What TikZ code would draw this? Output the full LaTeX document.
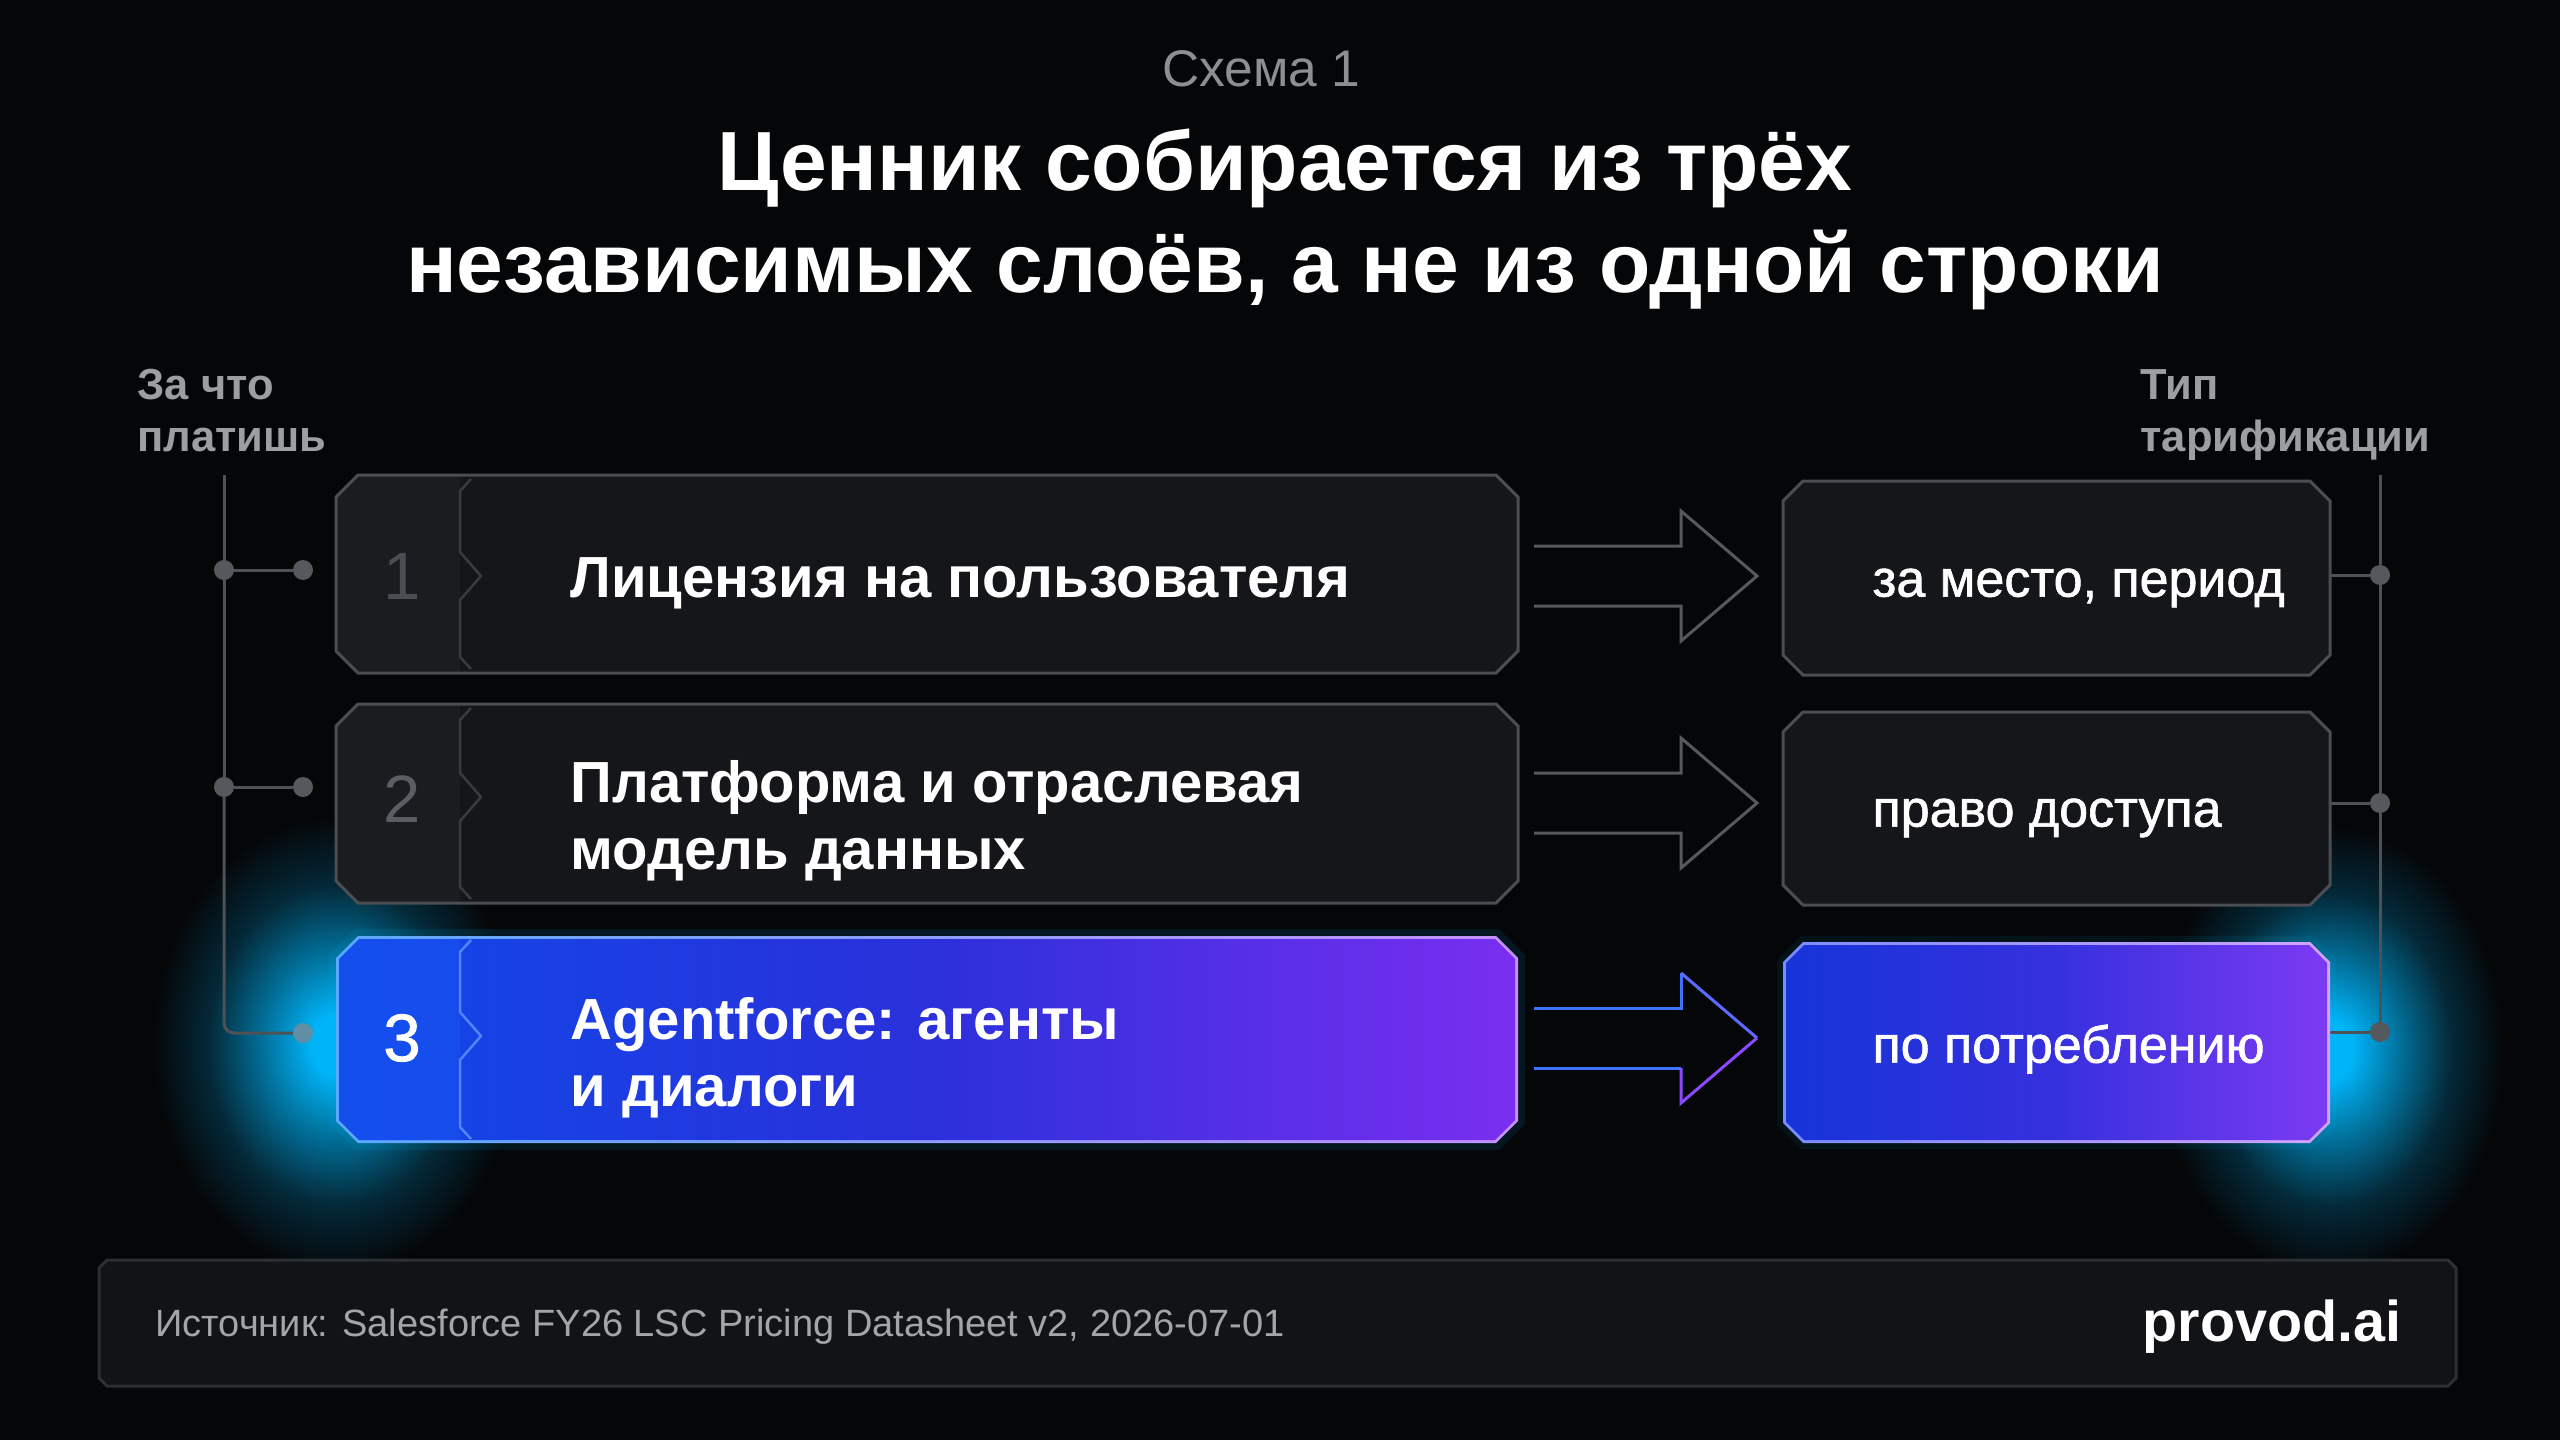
\documentclass[tikz,border=0pt]{standalone}
\usepackage{fontspec}
\setmainfont{Liberation Sans}
\newfontfamily\medfont{Liberation Sans}[FakeBold=1.2]
\usetikzlibrary{calc}
\definecolor{bg}{HTML}{050608}
\definecolor{boxfill}{HTML}{141619}
\definecolor{numfill}{HTML}{1A1C1F}
\definecolor{boxline}{HTML}{4A4D51}
\definecolor{divline}{HTML}{383B3F}
\definecolor{railc}{HTML}{4E5156}
\definecolor{dotc}{HTML}{55585D}
\definecolor{numone}{HTML}{4A4D51}
\definecolor{numtwo}{HTML}{5A5D61}
\definecolor{labgray}{HTML}{9C9EA1}
\definecolor{subgray}{HTML}{8C8E91}
\definecolor{arrowgray}{HTML}{55585C}
\definecolor{glow}{HTML}{00B4F8}
\definecolor{dotglow}{HTML}{5F8EA6}
\definecolor{bthreeL}{HTML}{1048E8}
\definecolor{bthreeM}{HTML}{2A30DA}
\definecolor{bthreeR}{HTML}{7A2EF0}
\definecolor{bthreelineL}{HTML}{5AA8FF}
\definecolor{bthreelineR}{HTML}{C490FF}
\definecolor{bthreediv}{HTML}{4F86FF}
\definecolor{numband}{HTML}{1E60FF}
\definecolor{rthreeL}{HTML}{1634D8}
\definecolor{rthreeM}{HTML}{3630DE}
\definecolor{rthreeR}{HTML}{7B3AF2}
\definecolor{rthreelineL}{HTML}{7A8CFF}
\definecolor{rthreelineR}{HTML}{D2A4FF}
\definecolor{arrowblue}{HTML}{3F72FF}
\definecolor{arrowmid}{HTML}{5C6BFF}
\definecolor{arrowviolet}{HTML}{8A48FF}
\definecolor{footfill}{HTML}{111316}
\definecolor{footline}{HTML}{2C2F33}
\definecolor{foottext}{HTML}{A3A5A8}
\pgfdeclareradialshading{glowshade}{\pgfpoint{0bp}{0bp}}{color(0bp)=(glow); color(3bp)=(glow); color(9bp)=(glow!62!bg); color(16bp)=(glow!20!bg); color(23bp)=(bg); color(50bp)=(bg)}
\pgfdeclarehorizontalshading{bthreeshade}{100bp}{color(0bp)=(bthreeL); color(25bp)=(bthreeL); color(50bp)=(bthreeM); color(75bp)=(bthreeR); color(100bp)=(bthreeR)}
\pgfdeclarehorizontalshading{rthreeshade}{100bp}{color(0bp)=(rthreeL); color(25bp)=(rthreeL); color(50bp)=(rthreeM); color(75bp)=(rthreeR); color(100bp)=(rthreeR)}
\newcommand\fsz[2]{\fontsize{#1}{#2}\selectfont}
\newcommand\divln[4]{\draw[#4, line width=2.5pt, line join=round] (471,#1+4) -- (460,#1+16) -- (460,#3-24) -- (481,#3) -- (460,#3+24) -- (460,#2-16) -- (471,#2-4);}
\newcommand\harrow[2]{\draw[#2, line width=3pt, line join=miter] (1534,#1-30) -- (1681,#1-30) -- (1681,#1-65) -- (1757,#1) -- (1681,#1+65) -- (1681,#1+30) -- (1534,#1+30);}
\begin{document}
\begin{tikzpicture}[x=1pt,y=-1pt,
  frame/.style 2 args={rectangle, minimum width=#1, minimum height=#2, inner sep=0pt, outer sep=0pt},
  champ/.style 2 args={insert path={($(#1.north west)+(#2,0)$) -- ($(#1.north east)+(-#2,0)$) -- ($(#1.north east)+(0,#2)$) -- ($(#1.south east)+(0,-#2)$) -- ($(#1.south east)+(-#2,0)$) -- ($(#1.south west)+(#2,0)$) -- ($(#1.south west)+(0,-#2)$) -- ($(#1.north west)+(0,#2)$) -- cycle}},
  darkbox/.style={fill=boxfill, draw=boxline, line width=3pt},
  rail/.style={draw=railc, line width=3pt},
  dot/.style={circle, fill=dotc, minimum size=20pt, inner sep=0pt},
  numtxt/.style={font=\fsz{67}{70}},
  lbl/.style={anchor=west, align=left, text=white, font=\bfseries\fsz{58}{67}},
  rlbl/.style={anchor=west, text=white, font=\medfont\fsz{52}{56}},
  side/.style={anchor=base west, text=labgray, font=\bfseries\fsz{43.5}{52}},
]
% background
\fill[bg] (0,0) rectangle (2560,1440);
\useasboundingbox (0,0) rectangle (2560,1440);

% frames (named)
\node[frame={1182}{198}] (b1) at (927,574) {};
\node[frame={1182}{199}] (b2) at (927,803.5) {};
\node[frame={1182}{207}] (b3) at (927,1039.5) {};
\node[frame={1176}{201}] (b3i) at (927,1039.5) {};
\node[frame={547}{194}] (r1) at (2056.5,578) {};
\node[frame={547}{193}] (r2) at (2056.5,808.5) {};
\node[frame={547}{201}] (r3) at (2056.5,1042.5) {};
\node[frame={541}{195}] (r3i) at (2056.5,1042.5) {};
\node[frame={2357}{126}] (foot) at (1277.5,1323) {};

% glows
\shade[shading=glowshade] (336,1045) ellipse [x radius=200, y radius=250];
\shade[shading=glowshade] (2330,1050) ellipse [x radius=190, y radius=245];
\draw[glow, opacity=.10, line width=14pt, champ={b3}{22}];
\draw[glow, opacity=.08, line width=12pt, champ={r3}{20}];

% titles
\node[text=subgray, font=\fsz{51.5}{56}] (sub) at (1261,69) {Схема 1};
\node[text=white, font=\bfseries\fsz{84}{100}] (t1) at (1285,168) {Ценник собирается из трёх};
\node[text=white, font=\bfseries\fsz{84}{100}] (t2) at (1285,270) {независимых слоёв, а не из одной строки};

% side labels
\node[side] (la) at (134,399) {За что};
\node[side] (lb) at (134,451) {платишь};
\node[side] (ra) at (2137,399) {Тип};
\node[side] (rb) at (2137,451) {тарификации};

% left rail
\coordinate (ltop) at (224,475);
\node[dot] (lj1) at (224,570) {};
\node[dot] (lj2) at (224,787) {};
\node[dot] (le1) at (303,570) {};
\node[dot] (le2) at (303,787) {};
\node[dot, fill=dotglow] (le3) at (303,1033) {};
\draw[rail] (ltop) -- (lj1) -- (lj2);
\draw[rail, rounded corners=10pt] (lj2) |- (le3);
\draw[rail] (lj1) -- (le1);
\draw[rail] (lj2) -- (le2);

% right rail
\coordinate (rtop) at (2380,475);
\node[dot] (rj1) at (2380,575) {};
\node[dot] (rj2) at (2380,803) {};
\node[dot] (rj3) at (2380,1032) {};
\draw[rail] (rtop) -- (rj1) -- (rj2) -- (rj3);
\draw[rail] (r1.east |- rj1) -- (rj1);
\draw[rail] (r2.east |- rj2) -- (rj2);
\draw[rail] (r3.east |- rj3) -- (rj3);

% box 1
\fill[boxfill, champ={b1}{22}];
\begin{scope}\clip[champ={b1}{22}]; \fill[numfill] (336,470) rectangle (460,680);\end{scope}
\divln{475}{673}{576}{divline}
\draw[darkbox, fill=none, champ={b1}{22}];
\node[numtxt, text=numone] (n1) at (402,576) {1};
\node[lbl] (l1) at (567,583) {Лицензия на пользователя};

% box 2
\fill[boxfill, champ={b2}{22}];
\begin{scope}\clip[champ={b2}{22}]; \fill[numfill] (336,700) rectangle (460,910);\end{scope}
\divln{704}{903}{797}{divline}
\draw[darkbox, fill=none, champ={b2}{22}];
\node[numtxt, text=numtwo] (n2) at (402,799) {2};
\node[lbl] (l2) at (567,821) {Платформа и отраслевая\\модель данных};

% box 3
\shade[left color=bthreelineL, right color=bthreelineR, champ={b3}{22}];
\shade[shading=bthreeshade, champ={b3i}{20}];
\begin{scope}\clip[champ={b3i}{20}]; \fill[numband, opacity=.30] (330,930) rectangle (460,1150);\end{scope}
\divln{936}{1143}{1036}{bthreediv}
\node[numtxt, text=white, font=\medfont\fsz{67}{70}] (n3) at (402,1038) {3};
\node[lbl] (l3) at (567,1058) {Agentforce: агенты\\и диалоги};

% arrows
\harrow{576}{arrowgray}
\harrow{803}{arrowgray}
\draw[arrowblue, line width=3pt] (1534,1008) -- (1681,1008) -- (1681,973);
\draw[arrowmid, line width=3pt] (1681,973) -- (1757,1038);
\draw[arrowblue, line width=3pt] (1534,1068) -- (1681,1068);
\draw[arrowviolet, line width=3pt] (1757,1038) -- (1681,1103) -- (1681,1068);

% right boxes
\draw[darkbox, champ={r1}{20}];
\node[rlbl] (rl1) at (1869,588) {за место, период};
\draw[darkbox, champ={r2}{20}];
\node[rlbl] (rl2) at (1869,818) {право доступа};
\shade[left color=rthreelineL, right color=rthreelineR, champ={r3}{20}];
\shade[shading=rthreeshade, champ={r3i}{18}];
\node[rlbl] (rl3) at (1869,1049) {по потреблению};

% footer
\draw[fill=footfill, draw=footline, line width=3pt, champ={foot}{8}];
\node[anchor=west, text=foottext, font=\fsz{38}{42}] (src) at (152,1327) {Источник: Salesforce FY26 LSC Pricing Datasheet v2, 2026-07-01};
\node[anchor=east, text=white, font=\bfseries\fsz{57.5}{60}] (brand) at (2405,1327) {provod.ai};
\end{tikzpicture}
\end{document}
